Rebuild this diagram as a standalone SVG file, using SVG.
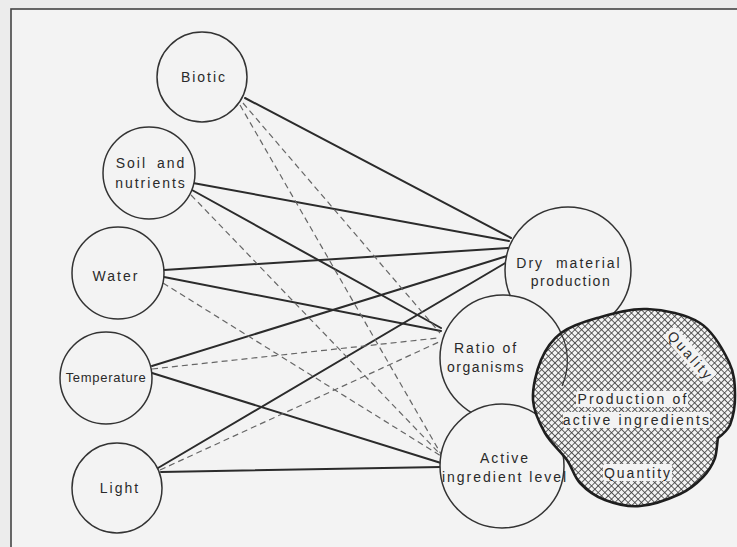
<svg xmlns="http://www.w3.org/2000/svg" width="737" height="547" viewBox="0 0 737 547">
<style>
  .bg { fill: #ececec; }
  .panel { fill: #f3f3f3; stroke: #444; stroke-width: 1.6; }
  .node { fill: #f3f3f3; stroke: #333; stroke-width: 1.5; }
  .solid { stroke: #2b2b2b; stroke-width: 2; fill: none; stroke-linecap: round; }
  .dash { stroke: #666; stroke-width: 1.2; fill: none; stroke-dasharray: 6 4; }
  .lbl { font-family: "Liberation Sans", Arial, sans-serif; font-size: 14px; fill: #2a2a2a; text-anchor: middle; letter-spacing: 2px; }
  .blob { fill: url(#hatch); stroke: #1e1e1e; stroke-width: 2.6; stroke-linejoin: round; }
  .knock { fill: #f3f3f3; }
</style>
<defs>
  <pattern id="hatch" patternUnits="userSpaceOnUse" width="4.7" height="4.7" patternTransform="rotate(45)">
    <rect width="4.7" height="4.7" fill="#f3f3f3"/>
    <line x1="0" y1="0" x2="4.7" y2="0" stroke="#3a3a3a" stroke-width="1.6"/>
    <line x1="0" y1="0" x2="0" y2="4.7" stroke="#3a3a3a" stroke-width="1.6"/>
  </pattern>
</defs>
<rect class="bg" x="0" y="0" width="737" height="547"/>
<rect class="panel" x="11" y="9" width="740" height="560"/>

<g id="connectors">
  <line class="solid" x1="245" y1="98" x2="511" y2="238"/>
  <line class="solid" x1="193" y1="183" x2="509" y2="241"/>
  <line class="solid" x1="192" y1="190" x2="441" y2="328"/>
  <line class="solid" x1="164" y1="270" x2="508" y2="248"/>
  <line class="solid" x1="164" y1="277" x2="441" y2="331"/>
  <line class="solid" x1="152" y1="366" x2="507" y2="256"/>
  <line class="solid" x1="152" y1="373" x2="441" y2="463"/>
  <line class="solid" x1="158" y1="468" x2="507" y2="262"/>
  <line class="solid" x1="161" y1="472" x2="441" y2="467"/>
  <line class="dash" x1="243" y1="103" x2="440" y2="333"/>
  <line class="dash" x1="240" y1="105" x2="441" y2="454"/>
  <line class="dash" x1="191" y1="195" x2="441" y2="455"/>
  <line class="dash" x1="163" y1="283" x2="441" y2="456"/>
  <line class="dash" x1="152" y1="369" x2="438" y2="338"/>
  <line class="dash" x1="160" y1="470" x2="439" y2="342"/>
</g>

<g id="biotic">
  <circle class="node" cx="202" cy="77" r="45"/>
  <text class="lbl" x="204" y="82">Biotic</text>
</g>
<g id="soil">
  <circle class="node" cx="149" cy="173" r="46"/>
  <text class="lbl" x="151" y="168" word-spacing="4">Soil and</text>
  <text class="lbl" x="151" y="188">nutrients</text>
</g>
<g id="water">
  <circle class="node" cx="118" cy="273" r="46"/>
  <text class="lbl" x="116" y="281">Water</text>
</g>
<g id="temperature">
  <circle class="node" cx="106" cy="378" r="46"/>
  <text class="lbl" x="106" y="382" style="font-size:13px;letter-spacing:0.7px">Temperature</text>
</g>
<g id="light">
  <circle class="node" cx="117" cy="488" r="45"/>
  <text class="lbl" x="120" y="493">Light</text>
</g>

<g id="dry-material">
  <circle class="node" cx="568" cy="270" r="63"/>
  <text class="lbl" x="569" y="268" word-spacing="6">Dry material</text>
  <text class="lbl" x="571" y="286" style="letter-spacing:1.5px">production</text>
</g>
<g id="ratio">
  <circle class="node" cx="503" cy="358" r="63"/>
  <text class="lbl" x="486" y="353">Ratio of</text>
  <text class="lbl" x="486" y="372" style="letter-spacing:1.5px">organisms</text>
</g>
<g id="active-level">
  <circle class="node" cx="502" cy="466" r="62"/>
  <text class="lbl" x="505" y="463">Active</text>
  <text class="lbl" x="505" y="482">ingredient level</text>
</g>

<g id="production">
  <path class="blob" d="M561,333 C570.3,326 582.7,322 597,318 C611.3,314 629.8,308.2 647,309 C664.2,309.8 686.3,314.2 700,323 C713.7,331.8 723.2,350 729,362 C734.8,374 734.8,384.5 735,395 C735.2,405.5 732.8,417.8 730,425 C727,431 722,435 718,438 C717,443 717,451 715,458 C712.5,464.5 708.8,471 703,477 C697.2,483 690.5,489.2 680,494 C669.5,498.8 652.5,505 640,506 C627.5,507 615,503.8 605,500 C595,496.2 586.3,489.7 580,483 C573.7,476.3 572.8,468.3 567,460 C561.2,451.7 550.7,443 545,433 C539.3,423 533.7,412.2 533,400 C532.3,387.8 536.3,371.2 541,360 C545.7,348.8 551.7,340 561,333 Z"/>
  <path d="M561,333 A63,63 0 0 1 562,386" fill="none" stroke="#333" stroke-width="1.2"/>
  <rect class="knock" x="576" y="391" width="112" height="16" rx="2"/>
  <rect class="knock" x="563" y="412" width="147" height="16" rx="2"/>
  <rect class="knock" x="603" y="464" width="69" height="17" rx="2"/>
  <rect class="knock" x="658" y="347" width="64" height="16" rx="2" transform="rotate(48 690 355)"/>
  <text class="lbl" x="633" y="404" style="letter-spacing:2.2px">Production of</text>
  <text class="lbl" x="637" y="425" style="letter-spacing:2.2px">active ingredients</text>
  <text class="lbl" x="638" y="478">Quantity</text>
  <text class="lbl" x="691" y="360" style="letter-spacing:2.5px" transform="rotate(48 690 355)">Quality</text>
</g>
</svg>
